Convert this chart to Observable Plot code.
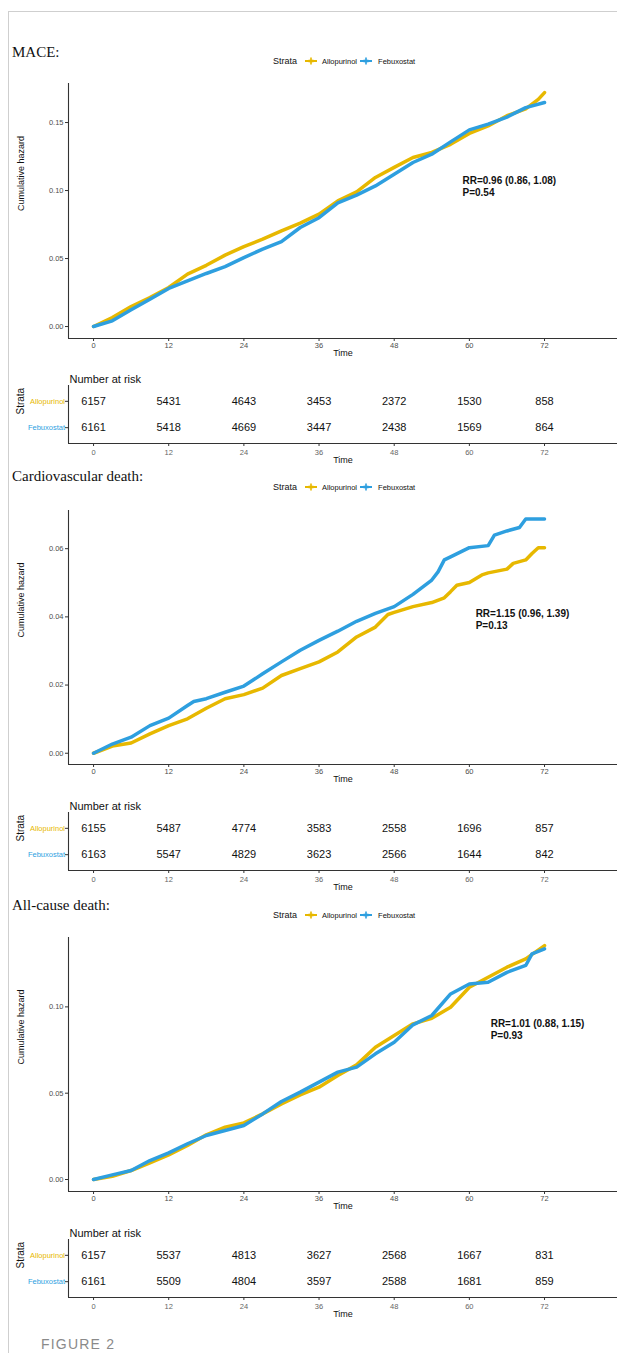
<!DOCTYPE html>
<html><head><meta charset="utf-8">
<script src="https://cdn.jsdelivr.net/npm/d3@7"></script>
<script src="https://cdn.jsdelivr.net/npm/@observablehq/plot@0.6"></script>
<style>
body{margin:0;background:#fff;}
#fig{position:relative;width:617px;height:1353px;overflow:hidden;font-family:"Liberation Sans",Arial,sans-serif;background:#fff;}
.frame{position:absolute;left:8px;top:11px;width:700px;height:1400px;border-left:1px solid #cfcfcf;border-top:1px solid #cfcfcf;}
.title{position:absolute;left:12px;font-family:"Liberation Serif","Times New Roman",serif;font-size:15px;color:#111;line-height:18px;transform:translateY(-50%);white-space:nowrap;}
.legend{position:absolute;left:273px;display:flex;align-items:center;transform:translateY(-50%);white-space:nowrap;color:#111;}
.legend .lab{font-size:9px;}
.legend .item{font-size:7.5px;}
.abs{position:absolute;left:0;}
.caption{position:absolute;left:41px;top:1337px;font-size:14px;line-height:14px;letter-spacing:1.2px;color:#8a8a8a;white-space:nowrap;}
</style></head>
<body><div id="fig"><div class="frame"></div></div>
<script>
// ---------- data ----------
const strata = ["Allopurinol", "Febuxostat"];
const colors = ["#E7B800", "#2E9FDF"];
const timeTicks = [0, 12, 24, 36, 48, 60, 72];

// MACE
const maceTimeAllo = [0,3,6,9,12,15,18,21,24,27,30,33,36,39,42,45,48,51,54,57,60,63,66,69,71,72];
const maceAllo = [0,0.0066,0.0147,0.0213,0.0287,0.0385,0.045,0.0525,0.0588,0.0642,0.0703,0.076,0.0826,0.0924,0.099,0.1096,0.117,0.1243,0.128,0.134,0.142,0.1475,0.155,0.160,0.167,0.172];
const maceTimeFebu = [0,3,6,9,12,15,18,21,24,27,30,33,36,39,42,45,48,51,54,57,60,63,66,69,72];
const maceFebu = [0,0.0042,0.0123,0.020,0.028,0.0336,0.039,0.044,0.0507,0.0569,0.0625,0.0728,0.080,0.091,0.0966,0.1034,0.112,0.1206,0.1267,0.1358,0.1446,0.1488,0.154,0.161,0.1647];
const maceRiskAllo = [6157,5431,4643,3453,2372,1530,858];
const maceRiskFebu = [6161,5418,4669,3447,2438,1569,864];

// Cardiovascular death
const cvTimeAllo = [0,3,6,9,12,15,18,21,24,27,30,33,36,39,42,45,47,48,51,54,56,57,58,60,62,63,66,67,69,70,71,72];
const cvAllo = [0,0.0021,0.003,0.0057,0.0081,0.0101,0.0132,0.016,0.0172,0.0191,0.0228,0.0248,0.0268,0.0297,0.0341,0.037,0.0407,0.0413,0.043,0.0442,0.0456,0.0474,0.0493,0.0501,0.0523,0.0529,0.054,0.0557,0.0567,0.0586,0.0603,0.0603];
const cvTimeFebu = [0,3,6,9,12,15,16,18,21,24,27,30,33,36,39,42,45,48,51,54,55,56,57,60,63,64,66,68,69,72];
const cvFebu = [0,0.0027,0.0047,0.0081,0.0103,0.014,0.0152,0.016,0.0179,0.0197,0.0233,0.0268,0.0302,0.0331,0.0358,0.0387,0.041,0.043,0.0466,0.0508,0.0532,0.0567,0.0576,0.0603,0.0609,0.064,0.0652,0.0662,0.0687,0.0687];
const cvRiskAllo = [6155,5487,4774,3583,2558,1696,857];
const cvRiskFebu = [6163,5547,4829,3623,2566,1644,842];

// All-cause death
const acTimeAllo = [0,3,6,9,12,15,18,21,24,27,30,33,36,39,42,45,48,51,54,57,60,63,66,69,72];
const acAllo = [0,0.0019,0.0052,0.0097,0.0143,0.0197,0.0259,0.0303,0.0328,0.038,0.0438,0.049,0.0535,0.0602,0.0664,0.0766,0.0834,0.0902,0.0934,0.0998,0.1114,0.1172,0.123,0.1278,0.1355];
const acTimeFebu = [0,3,6,9,12,15,18,21,24,27,30,33,36,39,42,45,48,51,54,57,60,63,66,69,70,72];
const acFebu = [0,0.0027,0.0052,0.011,0.0154,0.0207,0.0255,0.0284,0.0313,0.038,0.0452,0.0506,0.0564,0.0622,0.0651,0.0728,0.0795,0.0896,0.095,0.1075,0.1133,0.1143,0.12,0.124,0.1307,0.1336];
const acRiskAllo = [6157,5537,4813,3627,2568,1667,831];
const acRiskFebu = [6161,5509,4804,3597,2588,1681,859];

// ---------- helpers ----------
const rows = (times, vals, s) => times.map((t, i) => ({time: t, hazard: vals[i], strata: s}));
const riskRows = (a, b) => [
  ...timeTicks.map((t, i) => ({time: t, n: a[i], strata: strata[0]})),
  ...timeTicks.map((t, i) => ({time: t, n: b[i], strata: strata[1]}))
];
const rowIndex = s => strata.indexOf(s) + 1;
const xDomain = [-4, 83.65];
const tableY = [2.6, 0.4];
const FONT = "'Liberation Sans', Arial, sans-serif";

const panels = [
  {title: "MACE:", titleY: 51.7, legendY: 61, plotTop: 70, frameH: 255, yDomain: [-0.0088, 0.1787], yTicks: [0, 0.05, 0.10, 0.15],
   lines: [...rows(maceTimeAllo, maceAllo, strata[0]), ...rows(maceTimeFebu, maceFebu, strata[1])],
   rr: "RR=0.96 (0.86, 1.08)\nP=0.54", rrX: 58.9, rrY: 0.1035,
   tableTop: 360, risk: riskRows(maceRiskAllo, maceRiskFebu)},
  {title: "Cardiovascular death:", titleY: 476, legendY: 487, plotTop: 497, frameH: 254, yDomain: [-0.0033, 0.0712], yTicks: [0, 0.02, 0.04, 0.06],
   lines: [...rows(cvTimeAllo, cvAllo, strata[0]), ...rows(cvTimeFebu, cvFebu, strata[1])],
   rr: "RR=1.15 (0.96, 1.39)\nP=0.13", rrX: 61, rrY: 0.0394,
   tableTop: 787, risk: riskRows(cvRiskAllo, cvRiskFebu)},
  {title: "All-cause death:", titleY: 905, legendY: 915, plotTop: 924, frameH: 254, yDomain: [-0.00695, 0.1402], yTicks: [0, 0.05, 0.10],
   lines: [...rows(acTimeAllo, acAllo, strata[0]), ...rows(acTimeFebu, acFebu, strata[1])],
   rr: "RR=1.01 (0.88, 1.15)\nP=0.93", rrX: 63.4, rrY: 0.0869,
   tableTop: 1214, risk: riskRows(acRiskAllo, acRiskFebu)}
];

const fig = document.getElementById("fig");
function place(el, top) { el.classList.add("abs"); el.style.top = top + "px"; fig.appendChild(el); }

function legendEl(y) {
  const d = document.createElement("div");
  d.className = "legend";
  d.style.top = y + "px";
  const sym = c => `<svg width="12" height="8" style="display:block"><line x1="0" x2="12" y1="4" y2="4" stroke="${c}" stroke-width="2"/><line x1="6" x2="6" y1="0.5" y2="7.5" stroke="${c}" stroke-width="1.6"/><line x1="3.5" x2="8.5" y1="4" y2="4" stroke="${c}" stroke-width="2.6"/></svg>`;
  d.innerHTML = `<span class="lab">Strata</span><span style="margin-left:8px">${sym(colors[0])}</span><span class="item" style="margin-left:5px">${strata[0]}</span><span style="margin-left:3px">${sym(colors[1])}</span><span class="item" style="margin-left:6px">${strata[1]}</span>`;
  return d;
}

panels.forEach(p => {
  const t = document.createElement("div");
  t.className = "title"; t.textContent = p.title; t.style.top = p.titleY + "px";
  fig.appendChild(t);
  fig.appendChild(legendEl(p.legendY));

  const mt = 13, mb = 27;
  const chart = Plot.plot({
    width: 617, height: mt + p.frameH + mb,
    marginLeft: 68, marginRight: 0, marginTop: mt, marginBottom: mb,
    style: {fontFamily: FONT, background: "transparent", overflow: "visible"},
    x: {domain: xDomain},
    y: {domain: p.yDomain},
    color: {domain: strata, range: colors},
    marks: [
      Plot.ruleX([xDomain[0]], {stroke: "#333", strokeWidth: 1.1}),
      Plot.ruleY([p.yDomain[0]], {stroke: "#333", strokeWidth: 1.1}),
      Plot.axisX({ticks: timeTicks, tickSize: 3, tickPadding: 1.5, fontSize: 7.5, fill: "#4D4D4D", stroke: "#333", label: null}),
      Plot.axisY({ticks: p.yTicks, tickFormat: d3.format(".2f"), tickSize: 3, tickPadding: 2, fontSize: 7.5, fill: "#4D4D4D", stroke: "#333", label: null}),
      Plot.line(p.lines, {x: "time", y: "hazard", stroke: "strata", z: "strata", strokeWidth: 3.5, strokeLinejoin: "round"}),
      Plot.text([p.rr], {x: () => p.rrX, y: () => p.rrY, text: d => d, textAnchor: "start", lineAnchor: "middle", lineHeight: 1.2, fontSize: 10, fontWeight: "bold", fill: "#111"}),
      Plot.text(["Cumulative hazard"], {text: d => d, frameAnchor: "left", rotate: -90, dx: -47, fontSize: 9, fill: "#111"}),
      Plot.text(["Time"], {text: d => d, frameAnchor: "bottom", dy: 17, fontSize: 9, fill: "#111"})
    ]
  });
  place(chart, p.plotTop);

  const tt = 25, tb = 27, th = 58;
  const table = Plot.plot({
    width: 617, height: tt + th + tb,
    marginLeft: 68, marginRight: 0, marginTop: tt, marginBottom: tb,
    style: {fontFamily: FONT, background: "transparent", overflow: "visible"},
    x: {domain: xDomain},
    y: {domain: tableY},
    color: {domain: strata, range: colors},
    marks: [
      Plot.ruleX([xDomain[0]], {stroke: "#333", strokeWidth: 1.1}),
      Plot.ruleY([tableY[0]], {stroke: "#333", strokeWidth: 1.1}),
      Plot.axisX({ticks: timeTicks, tickSize: 3, tickPadding: 3.5, fontSize: 7.5, fill: "#666", stroke: "#333", label: null}),
      Plot.axisY({ticks: [1, 2], tickFormat: () => "", tickSize: 3, stroke: "#333", label: null}),
      Plot.text(strata, {y: d => rowIndex(d), text: d => d, fill: d => d, frameAnchor: "left", dx: -3.5, textAnchor: "end", fontSize: 7.5}),
      Plot.text(p.risk, {x: "time", y: d => rowIndex(d.strata), text: d => String(d.n), fontSize: 11, fill: "#111"}),
      Plot.text(["Number at risk"], {text: d => d, frameAnchor: "top-left", dx: 1, dy: -10, textAnchor: "start", fontSize: 11, fill: "#111"}),
      Plot.text(["Strata"], {text: d => d, frameAnchor: "left", rotate: -90, dx: -48, fontSize: 10, fill: "#111"}),
      Plot.text(["Time"], {text: d => d, frameAnchor: "bottom", dy: 19.5, fontSize: 9, fill: "#111"})
    ]
  });
  place(table, p.tableTop);
});

const cap = document.createElement("div");
cap.className = "caption"; cap.textContent = "FIGURE 2";
fig.appendChild(cap);
</script>
</body></html>
